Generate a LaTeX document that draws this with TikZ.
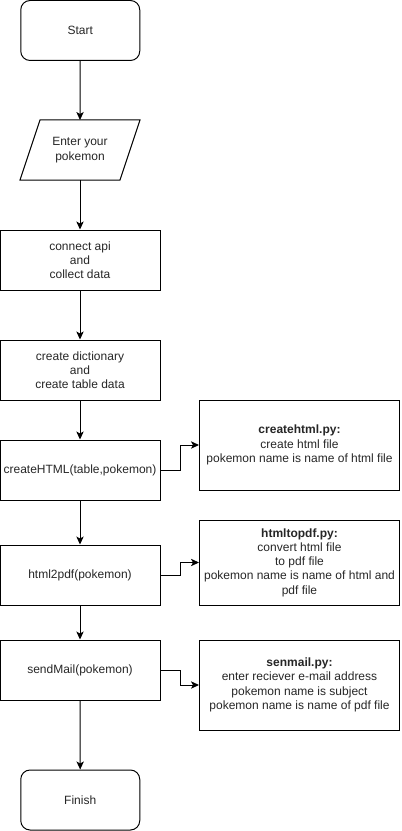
\documentclass[tikz,border=0pt]{standalone}
\usepackage{fontspec}
\setmainfont{Liberation Sans}
\usetikzlibrary{arrows.meta,calc}
\begin{document}
\begin{tikzpicture}[x=0.75pt,y=-0.75pt,
  every node/.style={font=\fontsize{9pt}{10.7pt}\selectfont, align=center, inner sep=0pt, text=black!85},
  box/.style={draw=black, line width=0.75pt, minimum width=120pt, minimum height=45pt},
  term/.style={box, rounded corners=7pt, minimum width=89.25pt},
  note/.style={draw=black, line width=0.75pt, minimum width=150pt},
  flow/.style={line width=0.75pt, -{Stealth[length=6pt,width=5.5pt,inset=1.5pt]}}
]
\useasboundingbox (0,0) rectangle (401,831);
\node[term] (start) at (80.25,30.5) {Start};
\node[minimum width=75pt, minimum height=45pt] (input) at (80,150) {Enter your\\pokemon};
\draw[line width=0.75pt] (40,120) -- (140,120) -- (120,180) -- (20,180) -- cycle;
\node[box] (api) at (80,260) {connect api\\and\\collect data};
\node[box] (dict) at (80,370) {create dictionary\\and\\create table data};
\node[box] (html) at (80,470) {createHTML(table,pokemon)};
\node[box] (pdf) at (80,575) {html2pdf(pokemon)};
\node[box] (mail) at (80,670) {sendMail(pokemon)};
\node[term] (finish) at (80.25,800) {Finish};
\node[note, minimum height=67.5pt] (n1) at (299.5,445) {\textbf{createhtml.py:}\\create html file\\pokemon name is name of html file};
\node[note, minimum height=63.75pt] (n2) at (299.5,562.5) {\textbf{htmltopdf.py:}\\convert html file\\to pdf file\\pokemon name is name of html and\\pdf file};
\node[note, minimum height=67.5pt] (n3) at (299.5,685) {\textbf{senmail.py:}\\enter reciever e-mail address\\pokemon name is subject\\pokemon name is name of pdf file};
\draw[flow] (start) -- (80,120);
\draw[flow] (80,180) -- (api);
\draw[flow] (api) -- (dict);
\draw[flow] (dict) -- (html);
\draw[flow] (html) -- (pdf);
\draw[flow] (pdf) -- (mail);
\draw[flow] (mail) -- (finish);
\draw[flow] (html.east) -- (180,470) |- (n1.west);
\draw[flow] (pdf.east) -- (180,575) |- (n2.west);
\draw[flow] (mail.east) -- (180,670) |- (n3.west);
\end{tikzpicture}
\end{document}
